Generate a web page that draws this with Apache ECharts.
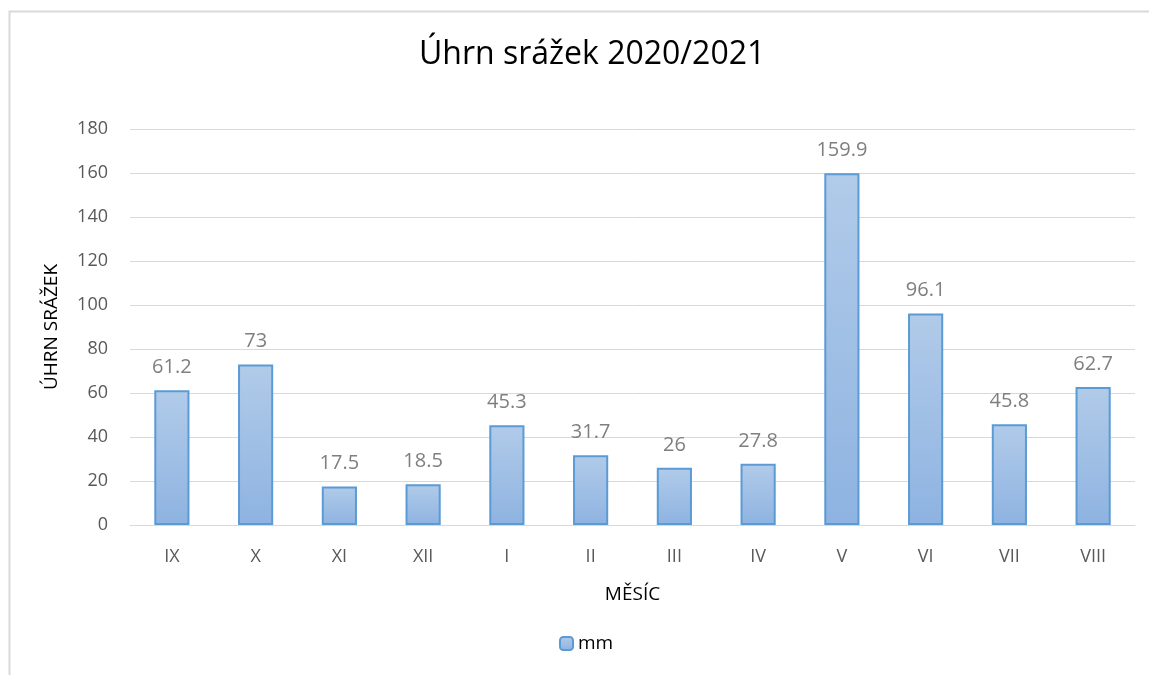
<!DOCTYPE html>
<html>
<head>
<meta charset="utf-8">
<script src="https://cdn.jsdelivr.net/npm/echarts@6/dist/echarts.min.js"></script>
<style>
  html, body { margin: 0; padding: 0; background: #fff; }
  #box { width: 1149px; height: 675px; }
</style>
</head>
<body>
<div id="box"></div>
<script>
var months = ['IX', 'X', 'XI', 'XII', 'I', 'II', 'III', 'IV', 'V', 'VI', 'VII', 'VIII'];
var mm = [61.2, 73, 17.5, 18.5, 45.3, 31.7, 26, 27.8, 159.9, 96.1, 45.8, 62.7];

var font = 'Open Sans';
var chart = echarts.init(document.getElementById('box'));

chart.setOption({
    animation: false,
    textStyle: { fontFamily: font },
    graphic: [{
        type: 'rect',
        shape: { x: 9.5, y: 11.5, width: 1300, height: 800 },
        style: { fill: 'none', stroke: '#d9d9d9', lineWidth: 2 },
        silent: true
    }],
    title: {
        text: 'Úhrn srážek 2020/2021',
        left: 414,
        top: 34,
        textStyle: { fontFamily: font, fontSize: 32, fontWeight: 'normal', color: '#000' }
    },
    legend: {
        bottom: 17,
        left: 554,
        itemWidth: 13,
        itemHeight: 13,
        itemGap: 5,
        textStyle: { fontFamily: font, fontSize: 19, color: '#000' },
        data: ['mm']
    },
    grid: { left: 130, right: 14, top: 129, bottom: 150 },
    xAxis: {
        type: 'category',
        data: months,
        name: 'MĚSÍC',
        nameLocation: 'middle',
        nameGap: 60,
        nameTextStyle: { fontSize: 19, color: '#000' },
        axisLine: { lineStyle: { color: '#d9d9d9', width: 1 } },
        axisTick: { show: false },
        axisLabel: { color: '#595959', fontSize: 18, margin: 23 }
    },
    yAxis: {
        type: 'value',
        min: 0,
        max: 180,
        interval: 20,
        name: 'ÚHRN SRÁŽEK',
        nameLocation: 'middle',
        nameGap: 69,
        nameTextStyle: { fontSize: 19, color: '#000' },
        axisLine: { show: false },
        axisTick: { show: false },
        axisLabel: { color: '#595959', fontSize: 18, margin: 22 },
        splitLine: { lineStyle: { color: '#d9d9d9', width: 1 } }
    },
    series: [{
        name: 'mm',
        type: 'bar',
        data: mm,
        barWidth: '42%',
        itemStyle: {
            color: new echarts.graphic.LinearGradient(0, 0, 0, 1, [
                { offset: 0, color: '#b1cbe9' },
                { offset: 1, color: '#8eb3e1' }
            ]),
            borderColor: '#5b9bd5',
            borderWidth: 2
        },
        label: {
            show: true,
            position: 'top',
            distance: 13,
            color: '#7f7f7f',
            fontSize: 20
        }
    }]
});
</script>
</body>
</html>
